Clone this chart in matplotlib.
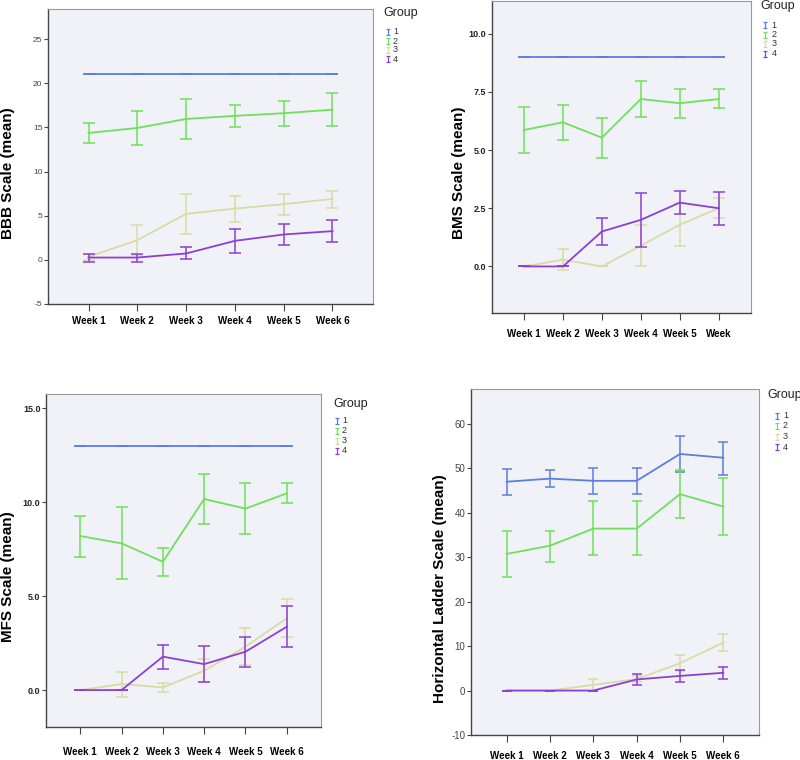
import matplotlib
matplotlib.use("Agg")
import matplotlib.pyplot as plt
from matplotlib.lines import Line2D
from matplotlib.path import Path

plt.rcParams['font.family'] = ['Liberation Sans', 'DejaVu Sans']

weeks = ["Week 1", "Week 2", "Week 3", "Week 4", "Week 5", "Week 6"]
weeks_bms = ["Week 1", "Week 2", "Week 3", "Week 4", "Week 5", "Week"]
groups = ["1", "2", "3", "4"]
group_colors = ["#5b7fdf", "#6ee05a", "#d9dba3", "#8c3fd6"]

# ---- BBB ----
bbb_mean = [[21, 21, 21, 21, 21, 21],
            [14.37, 14.93, 15.95, 16.3, 16.6, 17.0],
            [0.34, 2.23, 5.2, 5.8, 6.3, 6.9],
            [0.26, 0.26, 0.72, 2.15, 2.87, 3.25]]
bbb_lo = [[21, 21, 21, 21, 21, 21],
          [13.2, 12.97, 13.65, 15.0, 15.2, 15.1],
          [0.0, 0.5, 2.95, 4.3, 5.1, 5.9],
          [-0.2, -0.2, 0.04, 0.76, 1.63, 1.97]]
bbb_hi = [[21, 21, 21, 21, 21, 21],
          [15.46, 16.9, 18.2, 17.5, 17.96, 18.9],
          [0.64, 3.97, 7.5, 7.26, 7.5, 7.8],
          [0.64, 0.7, 1.44, 3.44, 4.08, 4.54]]

# ---- BMS ----
bms_mean = [[9, 9, 9, 9, 9, 9],
            [5.86, 6.19, 5.53, 7.19, 7.01, 7.19],
            [0.0, 0.29, 0.0, 0.89, 1.79, 2.5],
            [0.0, 0.0, 1.5, 2.0, 2.74, 2.5]]
bms_lo = [[9, 9, 9, 9, 9, 9],
          [4.86, 5.43, 4.67, 6.43, 6.39, 6.79],
          [0.0, -0.17, 0.0, 0.0, 0.86, 2.07],
          [0.0, 0.0, 0.9, 0.83, 2.24, 1.79]]
bms_hi = [[9, 9, 9, 9, 9, 9],
          [6.83, 6.94, 6.36, 7.96, 7.64, 7.6],
          [0.0, 0.74, 0.0, 1.79, 2.72, 2.93],
          [0.0, 0.0, 2.07, 3.14, 3.24, 3.2]]

# ---- MFS ----
mfs_mean = [[13, 13, 13, 13, 13, 13],
            [8.2, 7.81, 6.83, 10.17, 9.66, 10.47],
            [0.0, 0.32, 0.14, 1.03, 2.31, 3.82],
            [0.0, 0.0, 1.78, 1.38, 2.04, 3.37]]
mfs_lo = [[13, 13, 13, 13, 13, 13],
          [7.1, 5.89, 6.07, 8.82, 8.31, 9.94],
          [0.0, -0.36, -0.09, 0.43, 1.33, 2.8],
          [0.0, 0.0, 1.12, 0.44, 1.21, 2.27]]
mfs_hi = [[13, 13, 13, 13, 13, 13],
          [9.28, 9.76, 7.58, 11.49, 11.0, 11.04],
          [0.0, 0.98, 0.36, 1.63, 3.28, 4.83],
          [0.0, 0.0, 2.4, 2.34, 2.84, 4.49]]

# ---- Horizontal ladder ----
hl_mean = [[47.0, 47.7, 47.2, 47.2, 53.25, 52.4],
           [30.75, 32.6, 36.45, 36.45, 44.2, 41.4],
           [0.0, 0.0, 1.28, 2.6, 6.15, 10.8],
           [0.0, 0.0, 0.0, 2.5, 3.3, 4.0]]
hl_lo = [[44.0, 45.8, 44.3, 44.3, 49.1, 48.6],
         [25.6, 28.9, 30.4, 30.4, 38.9, 34.9],
         [0.0, 0.0, 0.0, 2.0, 4.3, 8.9],
         [0.0, 0.0, 0.0, 1.2, 2.0, 2.55]]
hl_hi = [[49.96, 49.6, 50.0, 50.0, 57.3, 56.0],
         [35.8, 36.0, 42.6, 42.6, 49.6, 47.9],
         [0.0, 0.0, 2.55, 3.2, 7.95, 12.75],
         [0.0, 0.0, 0.0, 3.75, 4.6, 5.4]]

W, H = 800, 760
fig = plt.figure(figsize=(8, 7.6), dpi=100)
BG = "#f1f2f8"


def make_axes(x0, x1, y0, y1):
    return fig.add_axes([x0 / W, 1 - y1 / H, (x1 - x0) / W, (y1 - y0) / H])


def draw_panel(ax, mean, lo, hi, xlabels, ylim, yticks, ytick_fmt, ylabel,
               label_xy, ytick_bold, ytick_size, xpad, capsize):
    ax.set_facecolor(BG)
    x = list(range(1, len(xlabels) + 1))
    for g in range(4):
        m = mean[g]
        err_lo = [mi - li for mi, li in zip(m, lo[g])]
        err_hi = [hi_ - mi for mi, hi_ in zip(m, hi[g])]
        ax.errorbar(x, m, yerr=[err_lo, err_hi], color=group_colors[g],
                    lw=1.3, elinewidth=1.1, capsize=capsize, capthick=1.1,
                    zorder=2 + g)
    ax.set_xlim(0.17, 6.83)
    ax.set_ylim(*ylim)
    ax.set_xticks(x)
    ax.set_xticklabels(xlabels, fontsize=7, fontweight='bold')
    ax.set_yticks(yticks)
    ax.set_yticklabels([ytick_fmt.format(v) for v in yticks],
                       fontsize=ytick_size,
                       fontweight='bold' if ytick_bold else 'normal',
                       color='#222' if ytick_bold else '#444')
    ax.tick_params(axis='x', length=5, width=0.8, color='#444', pad=xpad)
    ax.tick_params(axis='y', length=3, width=0.8, color='#444', pad=1)
    for s in ['top', 'right']:
        ax.spines[s].set_color('#999999')
        ax.spines[s].set_linewidth(0.8)
    for s in ['left', 'bottom']:
        ax.spines[s].set_color('#444444')
        ax.spines[s].set_linewidth(1.0)
    ax.set_ylabel(ylabel, fontsize=11, fontweight='bold')
    ax.yaxis.set_label_coords(*label_xy)


ibar = Path([(-0.5, -1), (0.5, -1), (0, -1), (0, 1), (-0.5, 1), (0.5, 1)],
            [Path.MOVETO, Path.LINETO, Path.MOVETO, Path.LINETO,
             Path.MOVETO, Path.LINETO])


def draw_legend(title_x, title_y, icon_x, num_x, rows_y):
    fig.text(title_x / W, 1 - title_y / H, "Group", fontsize=9,
             ha='left', va='center', color='#222')
    for g, ry in enumerate(rows_y):
        fig.add_artist(Line2D([icon_x / W], [1 - ry / H], marker=ibar,
                              markersize=5, markerfacecolor='none',
                              markeredgecolor=group_colors[g],
                              markeredgewidth=0.9, linestyle='None',
                              transform=fig.transFigure))
        fig.text(num_x / W, 1 - ry / H, groups[g], fontsize=6.5,
                 ha='left', va='center', color='#333')


# Panel 1: BBB
ax1 = make_axes(48, 373, 9, 304)
draw_panel(ax1, bbb_mean, bbb_lo, bbb_hi, weeks, (-5, 28.4),
           [-5, 0, 5, 10, 15, 20, 25], "{:d}", "BBB Scale (mean)",
           (-0.102, 0.444), False, 6, 3.6, 4)
draw_legend(383, 13, 388, 393, [32, 41, 50, 59])

# Panel 2: BMS
ax2 = make_axes(491.7, 751, 1, 313)
draw_panel(ax2, bms_mean, bms_lo, bms_hi, weeks_bms, (-2, 11.4),
           [0.0, 2.5, 5.0, 7.5, 10.0], "{:.1f}", "BMS Scale (mean)",
           (-0.099, 0.449), True, 6.5, 6.5, 4)
draw_legend(760.7, 6, 765, 771.5, [25, 34.5, 44, 53.5])

# Panel 3: MFS
ax3 = make_axes(46, 321, 394, 726.7)
draw_panel(ax3, mfs_mean, mfs_lo, mfs_hi, weeks, (-1.95, 15.76),
           [0.0, 5.0, 10.0, 15.0], "{:.1f}", "MFS Scale (mean)",
           (-0.113, 0.451), True, 6.5, 9.5, 4)
draw_legend(333, 404, 337, 342, [420.7, 430.7, 440.7, 450.7])

# Panel 4: Horizontal ladder
ax4 = make_axes(470.7, 759.3, 389.3, 735)
draw_panel(ax4, hl_mean, hl_lo, hl_hi, weeks, (-10, 67.8),
           [-10, 0, 10, 20, 30, 40, 50, 60], "{:d}",
           "Horizontal Ladder Scale (mean)",
           (-0.082, 0.422), False, 7, 6.5, 3.6)
draw_legend(767, 395, 777, 783, [415.7, 426, 436.7, 447])

fig.savefig("out.png", dpi=100, facecolor='white')
